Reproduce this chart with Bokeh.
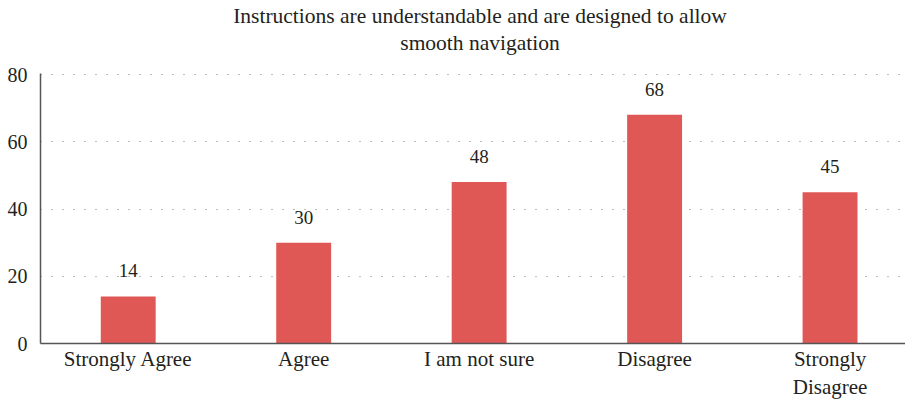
from bokeh.plotting import figure
from bokeh.models import Range1d, ColumnDataSource, FixedTicker, LabelSet, Div
from bokeh.layouts import column
from bokeh.embed import file_html
from bokeh.resources import INLINE

categories = ["Strongly Agree", "Agree", "I am not sure", "Disagree", "Strongly\nDisagree"]
counts = [14, 30, 48, 68, 45]
y_ticks = [0, 20, 40, 60, 80]
title_lines = ["Instructions are understandable and are designed to allow", "smooth navigation"]

FONT = "Liberation Serif"
TXT = "#231F20"
BAR = "#E05856"

xs = list(range(len(categories)))
src = ColumnDataSource(dict(x=xs, top=counts, label=[str(c) for c in counts]))

title_html = (
    '<div style="width:905px;box-sizing:border-box;padding-left:55px;padding-top:3px;'
    'text-align:center;font-family:\'Liberation Serif\',serif;font-size:21.5px;'
    'line-height:27px;color:%s;">%s</div>' % (TXT, "<br>".join(title_lines))
)
title_div = Div(text=title_html, width=905, height=63, margin=0)

p = figure(width=905, height=339, output_backend="svg", toolbar_location=None,
           x_range=Range1d(-0.5, 4.43), y_range=Range1d(0, 80.3),
           min_border_left=40, min_border_right=0, min_border_bottom=57, min_border_top=10,
           margin=0)

p.outline_line_color = None
p.background_fill_color = "white"
p.border_fill_color = "white"

p.vbar(x="x", top="top", width=0.313, bottom=0, source=src, color=BAR, line_color=None)

labels = LabelSet(x="x", y="top", text="label", source=src, y_offset=19,
                  text_align="center", text_baseline="alphabetic",
                  text_font=FONT, text_font_size="19px", text_color=TXT)
p.add_layout(labels)

p.xaxis.ticker = FixedTicker(ticks=xs)
p.xaxis.major_label_overrides = {i: c for i, c in enumerate(categories)}
p.yaxis.ticker = FixedTicker(ticks=y_ticks)

for ax in (p.xaxis, p.yaxis):
    ax.major_tick_line_color = None
    ax.minor_tick_line_color = None
    ax.axis_line_color = "#555555"
    ax.axis_line_width = 1.5
    ax.major_label_text_font = FONT
    ax.major_label_text_color = TXT
p.xaxis.major_label_text_font_size = "21px"
p.yaxis.major_label_text_font_size = "20px"
p.xaxis.major_label_standoff = -3
p.yaxis.major_label_standoff = 7

p.xgrid.grid_line_color = None
p.ygrid.grid_line_color = "#777777"
p.ygrid.grid_line_dash = "1 10"
p.ygrid.grid_line_width = 1

layout = column(title_div, p, spacing=0, margin=0)
open("out.html", "w").write(file_html(layout, INLINE))
